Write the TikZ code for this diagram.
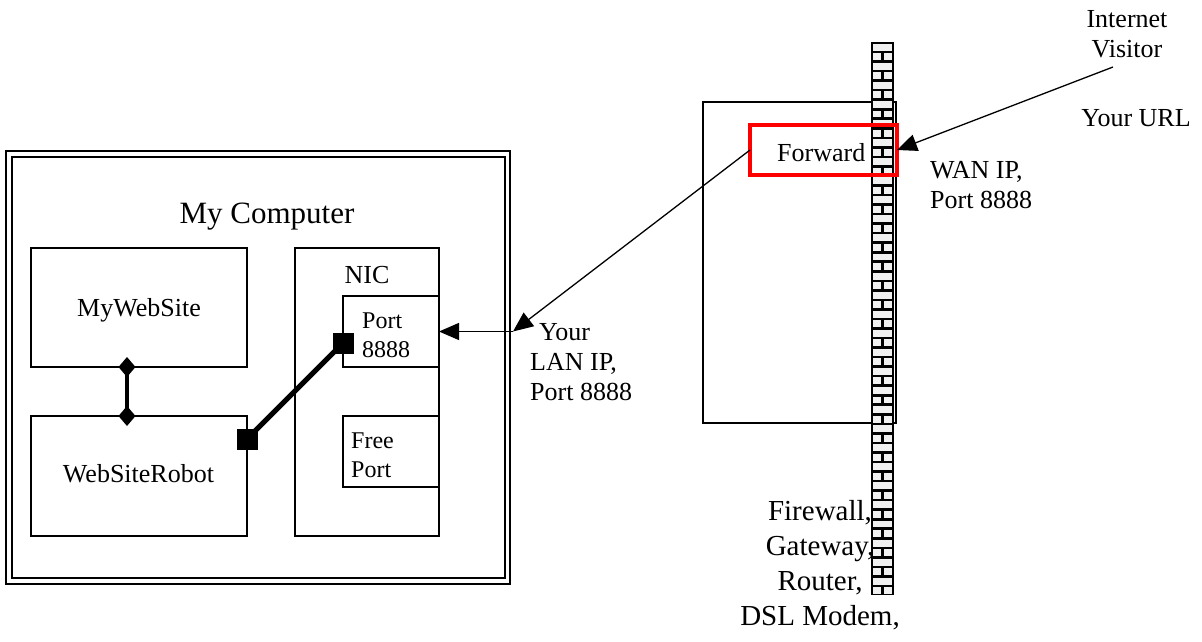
\documentclass[tikz,border=0pt]{standalone}
\usepackage{fontspec}
\setmainfont{Liberation Serif}
\usetikzlibrary{arrows.meta,calc}
\begin{document}
\begin{tikzpicture}[x=1pt,y=-1pt,
  bx/.style={draw=black,line width=1.3pt,inner sep=0pt,outer sep=0pt},
  txt/.style={inner sep=0pt,font=\fontsize{26}{30}\selectfont},
  arr/.style={line width=1.3pt,-{Triangle[length=20pt,width=17pt]}},
  sq/.style={fill=black,minimum size=21pt,inner sep=0pt,outer sep=0pt},
  brick/.style={fill=gray!12}]
\useasboundingbox (0,0) rectangle (1202,642);

% computer frame (double line)
\node[bx,line width=2pt,minimum width=504pt,minimum height=433pt] (frameO) at (258,367.5) {};
\node[bx,line width=2pt,minimum width=493pt,minimum height=421pt] (frameI) at (258.5,367.5) {};

% boxes
\node[bx,minimum width=216pt,minimum height=119pt] (mws) at (139,307.5) {};
\node[bx,minimum width=216pt,minimum height=120pt] (wsr) at (139,476) {};
\node[bx,minimum width=144pt,minimum height=288pt] (nic) at (367,392) {};
\node[bx,minimum width=96pt,minimum height=71pt] (port) at (391,331.5) {};
\node[bx,minimum width=96pt,minimum height=71pt] (free) at (391,451.5) {};

% router box
\node[bx,minimum width=193pt,minimum height=321pt] (router) at (799.5,262.5) {};

% brick wall
\fill[black] (871,42) rectangle (894,595);
\foreach \i in {0,...,57}{
  \pgfmathsetmacro\ya{42+\i*9.534+1.8}
  \pgfmathsetmacro\yb{42+(\i+1)*9.534-0.8}
  \ifodd\i
    \fill[brick] (873.2,\ya) rectangle (881.4,\yb);
    \fill[brick] (883.6,\ya) rectangle (891.8,\yb);
  \else
    \fill[brick] (873.2,\ya) rectangle (891.8,\yb);
  \fi
}

% forward box
\node[bx,draw=red,line width=4pt,minimum width=147pt,minimum height=50pt] (fwd) at (823.5,150) {};

% texts
\node[txt,font=\fontsize{31}{35}\selectfont,anchor=base] (tmc) at (267,223) {My Computer};
\node[txt,anchor=base] (tmws) at (139,316) {MyWebSite};
\node[txt,anchor=base] (twsr) at (138.5,482) {WebSiteRobot};
\node[txt,anchor=base] (tnic) at (367,283) {NIC};
\node[txt,font=\fontsize{24}{29}\selectfont,anchor=base west,align=left] (tport) at (362,357) {Port\\8888};
\node[txt,font=\fontsize{24}{29}\selectfont,anchor=base west,align=left] (tfree) at (351,477) {Free\\Port};
\node[txt,anchor=base west] (tfwd) at (777,161) {Forward};
\node[txt,anchor=base west,align=left] (tlan) at (530,400) {\hspace*{9pt}Your\\LAN IP,\\Port 8888};
\node[txt,anchor=base west,align=left] (twan) at (930,208) {WAN IP,\\Port 8888};
\node[txt,anchor=base,align=center] (tinet) at (1127,58) {Internet\\Visitor};
\node[txt,anchor=base] (turl) at (1136,126) {Your URL};
\node[txt,font=\fontsize{29}{35}\selectfont,anchor=base,align=center] (tfw) at (820,625) {Firewall,\\Gateway,\\Router,\\DSL Modem,};

% diamond connector
\coordinate (dA) at ($(mws.south west)+(96,0)$);
\coordinate (dB) at ($(wsr.north west)+(96,0)$);
\draw[line width=4pt] (dA) -- (dB);
\fill (dA) ++(0,-10) -- ++(8.5,10) -- ++(-8.5,10) -- ++(-8.5,-10) -- cycle;
\fill (dB) ++(0,-10) -- ++(8.5,10) -- ++(-8.5,10) -- ++(-8.5,-10) -- cycle;

% square connector
\coordinate (sA) at ($(wsr.north east)+(0,23)$);
\coordinate (sB) at ($(port.north west)+(0,47)$);
\draw[line width=5pt] (sA) -- (sB);
\node[sq] (sqA) at (sA) {};
\node[sq] (sqB) at (sB) {};

% arrows
\coordinate (lan) at (513,331.5);
\coordinate (vis) at (1113,67);
\draw[arr] (lan) -- (port.east);
\draw[arr] (fwd.west) -- (lan);
\draw[arr] (vis) -- (fwd.east);
\end{tikzpicture}
\end{document}
